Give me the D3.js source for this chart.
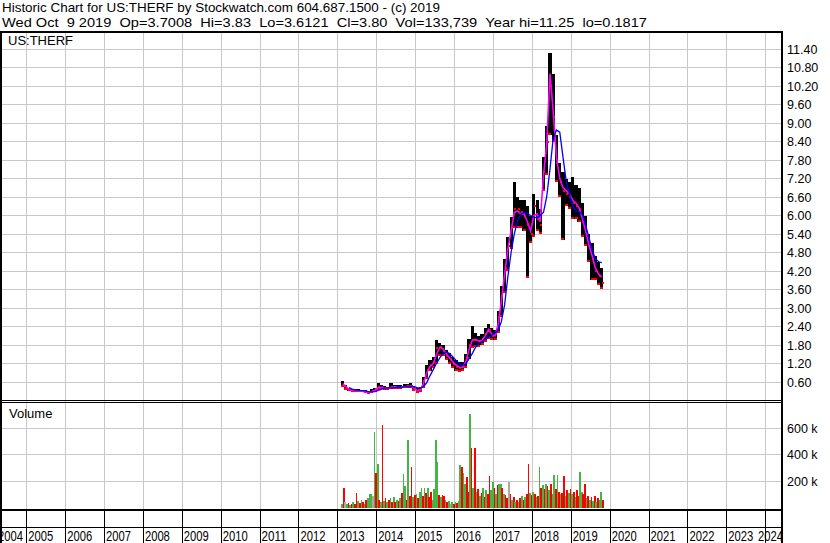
<!DOCTYPE html>
<html>
<head>
<meta charset="utf-8">
<script src="https://cdn.jsdelivr.net/npm/d3@7"></script>
<style>
  body { margin: 0; background: #fff; }
  svg { display: block; font-family: "Liberation Sans", Arial, sans-serif; }
</style>
</head>
<body>
<div class="canvas"></div>
<script>
// header texts (double spaces kept as no-break spaces)
const titleLine = "Historic Chart for US:THERF by Stockwatch.com 604.687.1500 - (c) 2019";
const quoteLine = "Wed Oct  9 2019  Op=3.7008  Hi=3.83  Lo=3.6121  Cl=3.80  Vol=133,739  Year hi=11.25  lo=0.1817";

// axis labels
const years = [2004, 2005, 2006, 2007, 2008, 2009, 2010, 2011, 2012, 2013, 2014,
  2015, 2016, 2017, 2018, 2019, 2020, 2021, 2022, 2023, 2024];
const priceTicks = ["0.60", "1.20", "1.80", "2.40", "3.00", "3.60", "4.20", "4.80", "5.40", "6.00",
  "6.60", "7.20", "7.80", "8.40", "9.00", "9.60", "10.20", "10.80", "11.40"];
const volTicks = [200, 400, 600];

// monthly price bars
const months = [
  "2013-02","2013-03","2013-04","2013-05","2013-06","2013-07","2013-08","2013-09","2013-10","2013-11","2013-12",
  "2014-01","2014-02","2014-03","2014-04","2014-05","2014-06","2014-07","2014-08","2014-09","2014-10","2014-11","2014-12",
  "2015-01","2015-02","2015-03","2015-04","2015-05","2015-06","2015-07","2015-08","2015-09","2015-10","2015-11","2015-12",
  "2016-01","2016-02","2016-03","2016-04","2016-05","2016-06","2016-07","2016-08","2016-09","2016-10","2016-11","2016-12",
  "2017-01","2017-02","2017-03","2017-04","2017-05","2017-06","2017-07","2017-08","2017-09","2017-10","2017-11","2017-12",
  "2018-01","2018-02","2018-03","2018-04","2018-05","2018-06","2018-07","2018-08","2018-09","2018-10","2018-11","2018-12",
  "2019-01","2019-02","2019-03","2019-04","2019-05","2019-06","2019-07","2019-08","2019-09","2019-10"
];
const highs = [
  0.62,0.50,0.42,0.38,0.37,0.36,0.35,0.33,0.32,0.36,0.42,
  0.56,0.50,0.48,0.45,0.58,0.50,0.49,0.50,0.52,0.54,0.57,0.48,
  0.40,0.45,0.75,1.15,1.30,1.40,1.96,1.85,1.80,1.65,1.55,1.40,
  1.30,1.25,1.25,1.50,2.00,2.42,2.20,2.10,2.15,2.35,2.48,2.35,
  2.30,2.90,3.70,4.60,5.30,5.95,7.10,6.60,6.50,6.50,6.30,6.00,
  6.70,6.50,6.20,7.90,8.90,11.26,10.60,8.60,7.70,7.40,7.20,7.10,
  7.25,7.00,6.90,6.40,6.00,5.40,5.10,4.70,4.50,4.30
];
const lows = [
  0.44,0.33,0.30,0.28,0.28,0.27,0.26,0.24,0.22,0.24,0.28,
  0.35,0.36,0.34,0.33,0.36,0.37,0.37,0.38,0.39,0.40,0.40,0.30,
  0.25,0.28,0.40,0.70,0.95,1.05,1.20,1.45,1.45,1.30,1.20,1.05,
  0.95,0.92,0.95,1.05,1.35,1.70,1.75,1.75,1.80,1.90,2.00,1.95,
  1.95,2.20,2.70,3.50,4.20,4.90,5.60,5.60,5.60,5.50,3.96,5.10,
  5.30,5.50,5.40,6.80,7.30,8.60,8.40,7.10,6.60,5.20,6.30,6.20,
  5.90,5.90,5.80,5.30,5.00,4.50,3.90,3.90,3.75,3.62
];
const closes = [
  0.48,0.38,0.34,0.32,0.31,0.31,0.30,0.27,0.26,0.30,0.36,
  0.45,0.42,0.40,0.39,0.45,0.43,0.42,0.44,0.45,0.47,0.48,0.36,
  0.31,0.38,0.62,1.00,1.15,1.25,1.70,1.72,1.62,1.45,1.35,1.20,
  1.10,1.05,1.08,1.35,1.80,1.95,1.95,1.90,2.00,2.15,2.30,2.10,
  2.15,2.70,3.40,4.30,5.00,5.60,6.20,6.20,6.10,6.00,5.70,5.40,
  6.30,5.90,5.70,7.40,8.40,10.20,9.20,7.70,7.10,6.80,6.70,6.60,
  6.40,6.30,6.20,5.80,5.40,5.00,4.60,4.20,4.05,3.80
];
// short (magenta) and long (blue) moving averages as drawn
const fastAvg = [
  0.55,0.45,0.37,0.33,0.32,0.31,0.30,0.28,0.27,0.28,0.33,
  0.42,0.43,0.41,0.40,0.43,0.44,0.43,0.43,0.44,0.46,0.47,0.40,
  0.33,0.35,0.55,0.90,1.10,1.20,1.50,1.72,1.68,1.52,1.38,1.25,
  1.15,1.08,1.07,1.25,1.65,1.95,1.98,1.93,1.95,2.10,2.30,2.15,
  2.10,2.50,3.20,4.10,4.90,5.50,6.10,6.15,6.05,6.05,5.80,5.50,
  6.00,6.05,5.80,7.30,8.30,10.60,9.40,7.90,7.20,6.90,6.80,6.70,
  6.50,6.40,6.25,5.90,5.50,5.05,4.70,4.30,4.10,4.00
];
const slowAvg = [
  null,null,0.42,0.37,0.34,0.33,0.32,0.31,0.29,0.28,0.29,
  0.33,0.37,0.40,0.41,0.41,0.42,0.43,0.43,0.44,0.45,0.46,0.45,
  0.42,0.40,0.45,0.58,0.80,1.00,1.20,1.38,1.52,1.58,1.52,1.42,
  1.30,1.20,1.15,1.18,1.35,1.52,1.72,1.85,1.92,1.98,2.05,2.12,
  2.18,2.30,2.55,3.10,4.00,4.80,5.40,5.85,6.05,6.10,6.07,6.00,
  5.95,5.92,6.00,6.10,6.60,7.50,8.50,8.77,8.70,7.90,7.10,6.70,
  6.30,6.15,6.12,6.02,5.70,5.30,4.90,4.60,4.50,4.47
];

// volume, half-month slots from Feb 2013 (thousands) and bar colour g/r/x
const volStart = "2013-02";
const volumes = [
  30,147,40,25,35,20,30,45,30,110,
  50,35,60,40,30,55,70,105,100,90,
  574,265,330,60,40,625,50,70,40,55,
  70,45,80,40,60,50,75,110,256,165,
  60,511,90,307,80,95,100,70,120,150,
  90,145,110,150,80,120,60,140,511,345,
  95,80,95,90,60,40,50,30,45,25,
  40,35,50,320,310,265,180,230,120,709,
  452,150,452,120,140,90,110,150,80,130,
  100,240,130,190,150,100,170,180,175,150,
  100,95,70,190,100,60,80,40,60,45,
  70,90,60,80,100,333,110,95,120,100,
  80,90,310,150,170,140,180,165,130,175,
  100,250,140,250,120,100,110,242,90,130,
  110,140,100,120,80,130,90,270,120,100,
  180,70,90,60,80,50,90,40,70,60,
  120,60
];
const volColours = ("grxgrgrgrr" + "grgrgrgggx" + "grgrgrgrgr" + "grgrgrgrgg" + "rgrrgrgrgg" +
  "rgrgrrgggg" + "rgrrgrgxgr" + "grggrggrrg" + "rgrgrgrgrg" + "rrggrgrggr" +
  "grrxrgrgrg" + "rgrgrrgrgr" + "grgrgrgrgr" + "ggrgrgrrgr" + "grgrgrrggr" +
  "rgrgrgrgrg" + "gr").split("");

const dims = { width: 830, height: 543 };
const panel = { left: 1, right: 782, top: 32, priceBottom: 400.5, volTop: 402.5, volBottom: 510, tickBottom: 527 };
const colourOf = { g: "#44b544", r: "#ff0000", x: "#a8a8a8" };
const nbsp = s => s.replace(/ /g, "\u00a0");

const parseMonth = d3.timeParse("%Y-%m");

const x = d3.scaleTime()
  .domain([new Date(2004, 0, 1), new Date(2025, 0, 1)])
  .range([-12.2, 804.7]);
const yPrice = d3.scaleLinear().domain([0, 11.4]).range([400.5, 49]);
const yVol = d3.scaleLinear().domain([0, 600]).range([507.5, 428.3]);

const svg = d3.select('.canvas')
  .append('svg')
  .attr('width', dims.width)
  .attr('height', dims.height);

svg.append('rect').attr('width', dims.width).attr('height', dims.height).attr('fill', '#fff');

// header (stretched to the reference's line lengths)
svg.append('text').attr('x', 2).attr('y', 12).attr('font-size', 13.2)
  .attr('textLength', 438).attr('lengthAdjust', 'spacingAndGlyphs').text(nbsp(titleLine));
svg.append('text').attr('x', 2).attr('y', 27).attr('font-size', 13.2)
  .attr('textLength', 645).attr('lengthAdjust', 'spacingAndGlyphs').text(nbsp(quoteLine));

// grid
const grid = svg.append('g').attr('stroke', '#c8c8c8').attr('stroke-width', 1).attr('shape-rendering', 'crispEdges');
grid.selectAll('.py').data(priceTicks).enter().append('line')
  .attr('x1', panel.left).attr('x2', panel.right)
  .attr('y1', d => yPrice(+d)).attr('y2', d => yPrice(+d));
grid.selectAll('.vy').data(volTicks).enter().append('line')
  .attr('x1', panel.left).attr('x2', panel.right)
  .attr('y1', d => yVol(d)).attr('y2', d => yVol(d));
grid.selectAll('.gx').data(years).enter().append('line')
  .attr('x1', d => x(new Date(d, 0, 1))).attr('x2', d => x(new Date(d, 0, 1)))
  .attr('y1', panel.top).attr('y2', panel.volBottom);

// price bars
const bars = months.map((m, i) => ({ date: d3.timeDay.offset(parseMonth(m), 14), hi: highs[i], lo: lows[i], cl: closes[i], fa: fastAvg[i], sa: slowAvg[i] }));
const graph = svg.append('g').attr('shape-rendering', 'crispEdges');
graph.selectAll('.bar').data(bars).enter().append('rect')
  .attr('x', d => x(d.date) - 1.6).attr('width', 3.2)
  .attr('y', d => yPrice(d.hi)).attr('height', d => yPrice(d.lo) - yPrice(d.hi))
  .attr('fill', '#000');
graph.selectAll('.lo').data(bars).enter().append('rect')
  .attr('x', d => x(d.date) - 1.5).attr('width', 3)
  .attr('y', d => yPrice(d.lo) - 2).attr('height', 2)
  .attr('fill', '#ff0000');
graph.selectAll('.cl').data(bars).enter().append('rect')
  .attr('x', d => x(d.date)).attr('width', 2)
  .attr('y', d => yPrice(d.cl) - 1).attr('height', 2)
  .attr('fill', '#ff0000');

const fastLine = d3.line().x(d => x(d.date)).y(d => yPrice(d.fa));
const slowLine = d3.line().defined(d => d.sa != null).x(d => x(d.date)).y(d => yPrice(d.sa));
svg.append('path').attr('d', fastLine(bars)).attr('fill', 'none').attr('stroke', '#ff00ff').attr('stroke-width', 1.6);
svg.append('path').attr('d', slowLine(bars)).attr('fill', 'none').attr('stroke', '#0000ff').attr('stroke-width', 1.3);

// volume bars
const volStartDate = parseMonth(volStart);
const vols = volumes.map((v, i) => ({
  date: d3.timeDay.offset(d3.timeMonth.offset(volStartDate, Math.floor(i / 2)), (i % 2) * 15),
  v: v, c: volColours[i]
}));
svg.append('g').attr('shape-rendering', 'crispEdges')
  .selectAll('rect').data(vols).enter().append('rect')
  .attr('x', d => x(d.date)).attr('width', 1.7)
  .attr('y', d => yVol(d.v)).attr('height', d => yVol(0) - yVol(d.v))
  .attr('fill', d => colourOf[d.c]);

// panel labels
svg.append('text').attr('x', 8).attr('y', 45).attr('font-size', 13).text('US:THERF');
svg.append('text').attr('x', 9).attr('y', 418).attr('font-size', 13).text('Volume');

// right axis labels
svg.selectAll('.pl').data(priceTicks).enter().append('text')
  .attr('x', 787).attr('y', d => yPrice(+d) + 4.5).attr('font-size', 12.5).text(d => d);
svg.selectAll('.vl').data(volTicks).enter().append('text')
  .attr('x', 787).attr('y', d => yVol(d) + 4.5).attr('font-size', 12.5).text(d => nbsp(d + ' k'));

// year labels, kept inside the strip at both ends
svg.selectAll('.yl').data(years).enter().append('text')
  .attr('x', d => Math.min(758, Math.max(-2, x(new Date(d, 0, 1)) + 1.5))).attr('y', 540.5)
  .attr('font-size', 15).attr('textLength', 25).attr('lengthAdjust', 'spacingAndGlyphs')
  .text(d => d);

// frame
const frame = svg.append('g').attr('stroke', '#000').attr('shape-rendering', 'crispEdges');
frame.append('line').attr('x1', 0).attr('x2', panel.right + 1).attr('y1', 32).attr('y2', 32).attr('stroke-width', 2);
frame.append('line').attr('x1', panel.left).attr('x2', panel.left).attr('y1', 31).attr('y2', dims.height).attr('stroke-width', 2);
frame.append('line').attr('x1', panel.right).attr('x2', panel.right).attr('y1', 31).attr('y2', dims.height).attr('stroke-width', 2);
frame.append('line').attr('x1', 0).attr('x2', panel.right).attr('y1', 400.5).attr('y2', 400.5);
frame.append('line').attr('x1', 0).attr('x2', panel.right).attr('y1', 402.5).attr('y2', 402.5);
frame.append('line').attr('x1', 0).attr('x2', panel.right).attr('y1', panel.volBottom).attr('y2', panel.volBottom).attr('stroke-width', 2);
frame.append('line').attr('x1', 0).attr('x2', panel.right).attr('y1', panel.tickBottom).attr('y2', panel.tickBottom);
frame.selectAll('.tk').data(years).enter().append('line')
  .attr('x1', d => x(new Date(d, 0, 1))).attr('x2', d => x(new Date(d, 0, 1)))
  .attr('y1', panel.volBottom).attr('y2', dims.height);
</script>
</body>
</html>
